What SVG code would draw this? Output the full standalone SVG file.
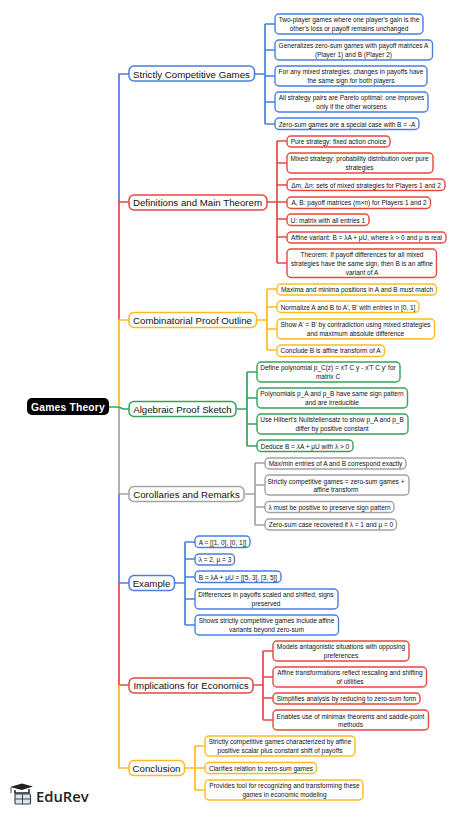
<svg xmlns="http://www.w3.org/2000/svg" width="474" height="814" viewBox="0 0 474 814">
<style>
text{font-family:"Liberation Sans",Arial,sans-serif;fill:#111;text-anchor:middle}
.b{fill:#fff;stroke-width:1.4}
.m{fill:#fff;stroke-width:1.5}
.t{font-size:9.7px}
.s{font-size:6.5px}
.c{fill:none;stroke-width:1.7}
.blue{stroke:#4a7fe0}.red{stroke:#e8483f}.yel{stroke:#fbbc1f}.grn{stroke:#34a35a}.gry{stroke:#a3a3a3}
</style>
<rect width="474" height="814" fill="#fff"/>
<g id="connectors">
<path class="c blue" d="M119 202V74H129"/>
<path class="c red" d="M119 320V202H129"/>
<path class="c yel" d="M119 406V320H129"/>
<path class="c gry" d="M119 494V407M119 494H129"/>
<path class="c grn" d="M109 407H119L123 409H129"/>
<path class="c blue" d="M119 583V494M119 583H129"/>
<path class="c red" d="M119 685V583M119 685H129"/>
<path class="c yel" d="M119 685V768H129"/>
<path class="c blue" d="M255 74H265M265 24V124M265 24H275M265 50H275M265 76H275M265 102H275M265 124H275"/>
<path class="c red" d="M267 202H277M277 141V263M277 141H287M277 163H287M277 185H287M277 202H287M277 219H287M277 237H287M277 263H287"/>
<path class="c yel" d="M257 320H267M267 289V350M267 289H277M267 307H277M267 329H277M267 350H277"/>
<path class="c grn" d="M237 409H247M247 372V446M247 372H257M247 398H257M247 424H257M247 446H257"/>
<path class="c gry" d="M245 494H255M255 463V525M255 463H265M255 485H265M255 507H265M255 525H265"/>
<path class="c blue" d="M175 583H185M185 542V625M185 542H195M185 559H195M185 577H195M185 599H195M185 625H195"/>
<path class="c red" d="M253 685H263M263 651V720M263 651H273M263 677H273M263 698H273M263 720H273"/>
<path class="c yel" d="M185 768H195M195 746V790M195 746H205M195 768H205M195 790H205"/>
</g>
<g id="root"><rect x="27" y="398" width="82" height="17" rx="5" fill="#000"/><text x="68" y="410.500" style="font-size:10.3px;font-weight:700;fill:#fff;letter-spacing:.2px">Games Theory</text></g>
<g id="n1"><rect class="m blue" x="129" y="66" width="125.500" height="15" rx="5"/><text class="t" x="191.500" y="77.500">Strictly Competitive Games</text></g>
<g id="n1a"><rect class="b blue" x="275" y="14" width="148" height="20" rx="4"/><text class="s" x="349" y="22">Two-player games where one player's gain is the</text><text class="s" x="349" y="31">other's loss or payoff remains unchanged</text></g>
<g id="n1b"><rect class="b blue" x="275" y="40" width="157.500" height="20" rx="4"/><text class="s" x="353.500" y="48">Generalizes zero-sum games with payoff matrices A</text><text class="s" x="353.500" y="57">(Player 1) and B (Player 2)</text></g>
<g id="n1c"><rect class="b blue" x="275" y="66" width="152" height="20" rx="4"/><text class="s" x="351" y="74">For any mixed strategies, changes in payoffs have</text><text class="s" x="351" y="83">the same sign for both players</text></g>
<g id="n1d"><rect class="b blue" x="275" y="92" width="153" height="20" rx="4"/><text class="s" x="351.500" y="100">All strategy pairs are Pareto optimal: one improves</text><text class="s" x="351.500" y="109">only if the other worsens</text></g>
<g id="n1e"><rect class="b blue" x="275" y="118" width="144" height="11.500" rx="4"/><text class="s" x="347" y="126.500">Zero-sum games are a special case with B = -A</text></g>
<g id="n2"><rect class="m red" x="129" y="195" width="138" height="15" rx="5"/><text class="t" x="197.500" y="205.500">Definitions and Main Theorem</text></g>
<g id="n2a"><rect class="b red" x="287" y="136" width="103" height="11" rx="4"/><text class="s" x="338.500" y="144">Pure strategy: fixed action choice</text></g>
<g id="n2b"><rect class="b red" x="287" y="153" width="146" height="20" rx="4"/><text class="s" x="359.500" y="161">Mixed strategy: probability distribution over pure</text><text class="s" x="359.500" y="170">strategies</text></g>
<g id="n2c"><rect class="b red" x="287" y="179" width="158" height="11.500" rx="4"/><text class="s" x="366" y="187.500">Δm, Δn: sets of mixed strategies for Players 1 and 2</text></g>
<g id="n2d"><rect class="b red" x="287" y="197" width="143.500" height="11.500" rx="4"/><text class="s" x="359" y="205">A, B: payoff matrices (m×n) for Players 1 and 2</text></g>
<g id="n2e"><rect class="b red" x="287" y="214" width="82" height="11.500" rx="4"/><text class="s" x="328" y="222.500">U: matrix with all entries 1</text></g>
<g id="n2f"><rect class="b red" x="287" y="232" width="159" height="11" rx="4"/><text class="s" x="366.500" y="240">Affine variant: B = λA + μU, where λ &gt; 0 and μ is real</text></g>
<g id="n2g"><rect class="b red" x="287" y="249" width="149.500" height="28.500" rx="4"/><text class="s" x="362" y="257">Theorem: If payoff differences for all mixed</text><text class="s" x="362" y="266">strategies have the same sign, then B is an affine</text><text class="s" x="362" y="274.500">variant of A</text></g>
<g id="n3"><rect class="m yel" x="129" y="312.500" width="127.500" height="15" rx="5"/><text class="t" x="192.500" y="323.500">Combinatorial Proof Outline</text></g>
<g id="n3a"><rect class="b yel" x="277" y="284" width="159.500" height="11" rx="4"/><text class="s" x="357" y="292">Maxima and minima positions in A and B must match</text></g>
<g id="n3b"><rect class="b yel" x="277" y="301" width="142" height="11.500" rx="4"/><text class="s" x="348" y="309.500">Normalize A and B to A', B' with entries in [0, 1]</text></g>
<g id="n3c"><rect class="b yel" x="277" y="319" width="157.500" height="20" rx="4"/><text class="s" x="355.500" y="327">Show A' = B' by contradiction using mixed strategies</text><text class="s" x="355.500" y="335.500">and maximum absolute difference</text></g>
<g id="n3d"><rect class="b yel" x="277" y="345" width="107.500" height="11.500" rx="4"/><text class="s" x="330.500" y="353">Conclude B is affine transform of A</text></g>
<g id="n4"><rect class="m grn" x="129" y="401.500" width="107" height="15" rx="5"/><text class="t" x="182.500" y="412.500">Algebraic Proof Sketch</text></g>
<g id="n4a"><rect class="b grn" x="257" y="362" width="143" height="20" rx="4"/><text class="s" x="328" y="370">Define polynomial p_C(z) = xT C y - x'T C y' for</text><text class="s" x="328" y="379">matrix C</text></g>
<g id="n4b"><rect class="b grn" x="257" y="388" width="150.500" height="20" rx="4"/><text class="s" x="332" y="396">Polynomials p_A and p_B have same sign pattern</text><text class="s" x="332" y="405">and are irreducible</text></g>
<g id="n4c"><rect class="b grn" x="257" y="414" width="151" height="20" rx="4"/><text class="s" x="332" y="422">Use Hilbert's Nullstellensatz to show p_A and p_B</text><text class="s" x="332" y="431">differ by positive constant</text></g>
<g id="n4d"><rect class="b grn" x="257" y="440" width="96" height="11.500" rx="4"/><text class="s" x="305" y="448.500">Deduce B = λA + μU with λ &gt; 0</text></g>
<g id="n5"><rect class="m gry" x="129" y="486.500" width="115" height="15" rx="5"/><text class="t" x="186.500" y="497.500">Corollaries and Remarks</text></g>
<g id="n5a"><rect class="b gry" x="265" y="458" width="141" height="11" rx="4"/><text class="s" x="335.500" y="466">Max/min entries of A and B correspond exactly</text></g>
<g id="n5b"><rect class="b gry" x="265" y="475" width="144" height="20" rx="4"/><text class="s" x="336" y="483.500">Strictly competitive games = zero-sum games +</text><text class="s" x="336" y="492">affine transform</text></g>
<g id="n5c"><rect class="b gry" x="265" y="501.500" width="129" height="11" rx="4"/><text class="s" x="329.500" y="509.500">λ must be positive to preserve sign pattern</text></g>
<g id="n5d"><rect class="b gry" x="265" y="519" width="131.500" height="11" rx="4"/><text class="s" x="331" y="527">Zero-sum case recovered if λ = 1 and μ = 0</text></g>
<g id="n6"><rect class="m blue" x="129" y="575.500" width="45.500" height="15" rx="5"/><text class="t" x="151.500" y="586.500">Example</text></g>
<g id="n6a"><rect class="b blue" x="195" y="536" width="55" height="11.500" rx="4"/><text class="s" x="222.500" y="544.500">A = [[1, 0], [0, 1]]</text></g>
<g id="n6b"><rect class="b blue" x="195" y="554" width="39.500" height="11" rx="4"/><text class="s" x="215" y="562">λ = 2, μ = 3</text></g>
<g id="n6c"><rect class="b blue" x="195" y="571" width="86" height="11.500" rx="4"/><text class="s" x="238" y="579.500">B = λA + μU = [[5, 3], [3, 5]]</text></g>
<g id="n6d"><rect class="b blue" x="195" y="589" width="143" height="20" rx="4"/><text class="s" x="266" y="597">Differences in payoffs scaled and shifted; signs</text><text class="s" x="266" y="605.500">preserved</text></g>
<g id="n6e"><rect class="b blue" x="195" y="615" width="143.500" height="20" rx="4"/><text class="s" x="266.500" y="623">Shows strictly competitive games include affine</text><text class="s" x="266.500" y="631.500">variants beyond zero-sum</text></g>
<g id="n7"><rect class="m red" x="129" y="678" width="124" height="15" rx="5"/><text class="t" x="191" y="688.500">Implications for Economics</text></g>
<g id="n7a"><rect class="b red" x="273" y="641" width="136" height="20" rx="4"/><text class="s" x="341" y="649">Models antagonistic situations with opposing</text><text class="s" x="341" y="657.500">preferences</text></g>
<g id="n7b"><rect class="b red" x="273" y="667" width="153.500" height="20" rx="4"/><text class="s" x="350" y="675">Affine transformations reflect rescaling and shifting</text><text class="s" x="350" y="684">of utilities</text></g>
<g id="n7c"><rect class="b red" x="273" y="693" width="147" height="11" rx="4"/><text class="s" x="346.500" y="701">Simplifies analysis by reducing to zero-sum form</text></g>
<g id="n7d"><rect class="b red" x="273" y="710" width="155.500" height="20" rx="4"/><text class="s" x="350.500" y="718.500">Enables use of minimax theorems and saddle-point</text><text class="s" x="350.500" y="727">methods</text></g>
<g id="n8"><rect class="m yel" x="129" y="760.500" width="55.500" height="15" rx="5"/><text class="t" x="156.500" y="771.500">Conclusion</text></g>
<g id="n8a"><rect class="b yel" x="205" y="736" width="150" height="20" rx="4"/><text class="s" x="280" y="744">Strictly competitive games characterized by affine</text><text class="s" x="280" y="753">positive scalar plus constant shift of payoffs</text></g>
<g id="n8b"><rect class="b yel" x="205" y="762.500" width="111.500" height="11" rx="4"/><text class="s" x="261" y="770.500">Clarifies relation to zero-sum games</text></g>
<g id="n8c"><rect class="b yel" x="205" y="780" width="158" height="20" rx="4"/><text class="s" x="284.500" y="788">Provides tool for recognizing and transforming these</text><text class="s" x="284.500" y="796.500">games in economic modeling</text></g>
<g id="logo">
<path d="M10 787L22 783.500L33 786.500L22 790Z" fill="#222"/>
<path d="M15 790V793H29V789" fill="none" stroke="#222" stroke-width="1.5"/>
<path d="M11 787.500V793" stroke="#222" stroke-width=".8"/>
<rect x="15" y="794" width="15.500" height="10" rx="1" fill="#d8e6ee" stroke="#444" stroke-width="1.2"/>
<path d="M22.500 794V804M15 799H30.500" stroke="#444" stroke-width="1"/>
<text x="36" y="801.500" style="font-family:'Open Sans',sans-serif;font-size:14.8px;font-weight:600;text-anchor:start;fill:#222">EduRev</text>
</g>
</svg>
